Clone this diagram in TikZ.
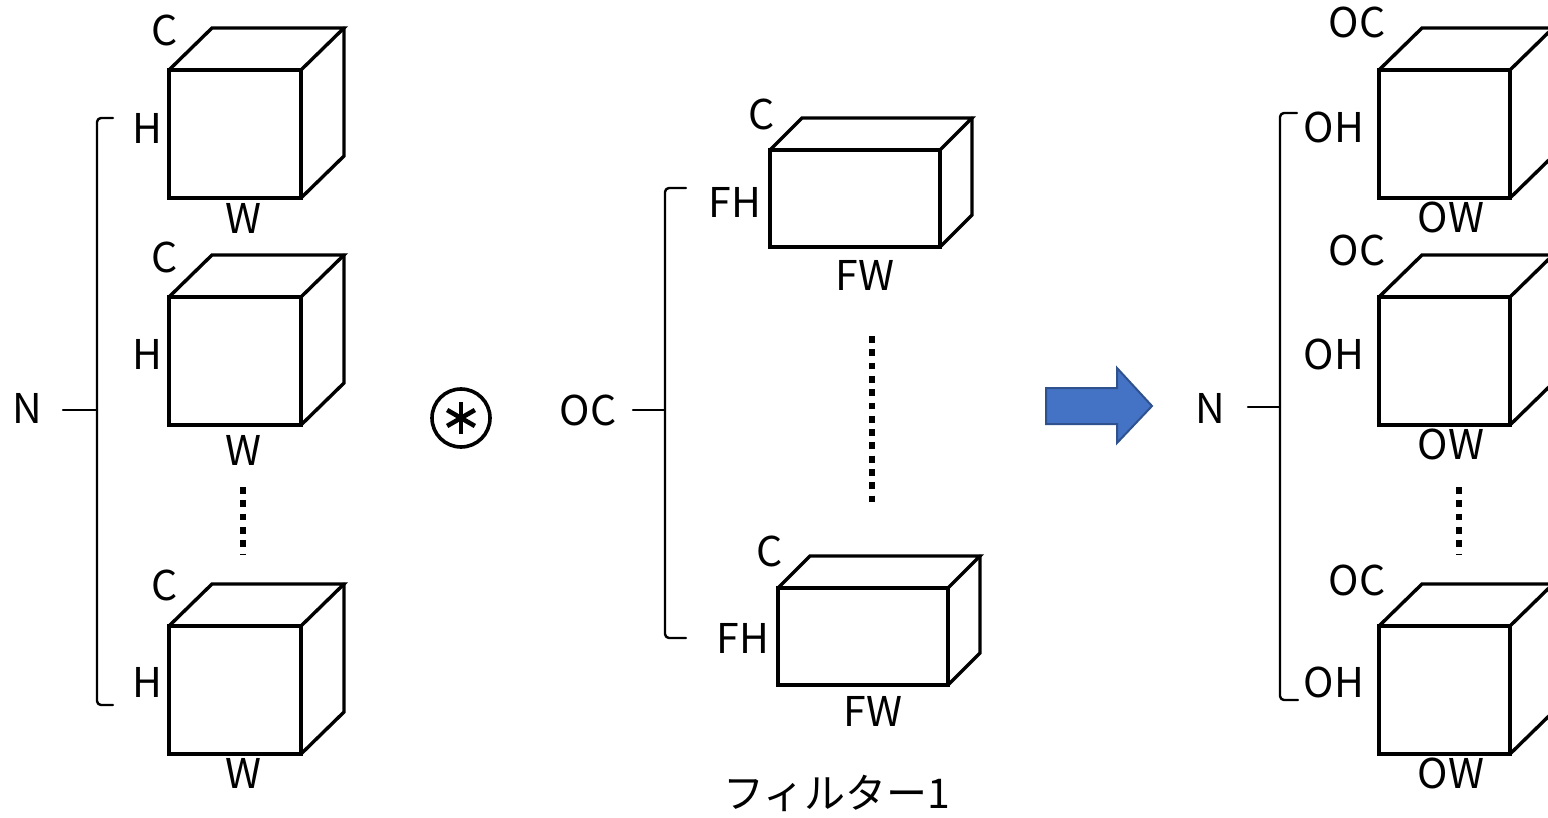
\documentclass[tikz,border=0pt]{standalone}
\usepackage{fontspec}
\setmainfont{Noto Sans CJK JP}
\usetikzlibrary{arrows}
\definecolor{arrowblue}{RGB}{68,114,196}
\definecolor{arrowedge}{RGB}{47,82,143}
\tikzset{
  box/.style={line width=1.7pt,line join=miter},
  brace/.style={line width=1.2pt,rounded corners=2pt},
  dotline/.style={line width=3.4pt,line cap=butt,dash pattern=on 3.4pt off 3.25pt},
  lbl/.style={font=\fontsize{20.5}{24}\selectfont,inner sep=0pt}
}
\begin{document}
\begin{tikzpicture}[line cap=round,line join=round,x=0.5pt,y=-0.5pt]
\useasboundingbox (0,0) rectangle (1548,818);
		% Entree : N cubes
		\foreach \i/\t/\cy/\hy/\wy in {1/70/30/128/218, 2/297/257/354/450, 3/626/585/682/773}{
			\draw[box] (169,\t) rectangle (301,\t+128);
			\draw[box] (169,\t)--(212,\t-42)--(344,\t-42)--(301,\t);
			\draw[box] (344,\t-42)--(344,\t+86)--(301,\t+128);
			\node[lbl] (c\i) at (165,\cy) {C};
			\node[lbl] (h\i) at (147,\hy) {H};
			\node[lbl] (w\i) at (243,\wy) {W};
		}
		\draw[dotline] (243,487)--(243,555);
		\node[lbl] (n1) at (27,408) {N};
		\coordinate (b1) at (63,410);
		\draw[brace] (113,118)--(97,118)--(97,705)--(113,705);
		\draw[brace] (b1)--(97,410);
		% Produit de convolution
		\coordinate (conv) at (461,418);
		\draw[line width=1.8pt] (conv) circle (29);
		\foreach \a in {90,210,330}{
			\draw[line width=2.3pt,line cap=butt] (conv)++(\a:16)--++(\a+180:32);
		}
		% Filtres : OC
		\node[lbl] (oc) at (588,410) {OC};
		\coordinate (b2) at (633,410);
		\draw[brace] (686,188)--(665,188)--(665,638)--(686,638);
		\draw[brace] (b2)--(665,410);
		\foreach \i/\x/\t/\cy/\hy/\wy in {1/770/150/114/202/275, 2/778/588/551/638/711}{
			\draw[box] (\x,\t) rectangle (\x+170,\t+97);
			\draw[box] (\x,\t)--(\x+32,\t-32)--(\x+202,\t-32)--(\x+170,\t);
			\draw[box] (\x+202,\t-32)--(\x+202,\t+65)--(\x+170,\t+97);
			\node[lbl] (fc\i) at (\x-8,\cy) {C};
			\node[lbl] (fh\i) at (\x-35,\hy) {FH};
			\node[lbl] (fw\i) at (\x+95,\wy) {FW};
		}
		\draw[dotline] (872,336)--(872,505);
		\node[lbl] (filt) at (837,793) {フィルター1};
		% Fleche
		\draw[fill=arrowblue,draw=arrowedge,line width=1pt,line join=miter]
			(1046,388)--(1117,388)--(1117,368)--(1152,406)--(1117,443)--(1117,424)--(1046,424)--cycle;
		% Sortie : N cubes
		\node[lbl] (n2) at (1210,408) {N};
		\coordinate (b3) at (1248,407);
		\draw[brace] (1297,113)--(1280,113)--(1280,700)--(1298,700);
		\draw[brace] (b3)--(1280,407);
		\foreach \i/\t/\cy/\hy/\wy in {1/70/22/127/217, 2/297/250/354/444, 3/626/580/682/773}{
			\draw[box] (1379,\t) rectangle (1510,\t+128);
			\draw[box] (1379,\t)--(1422,\t-42)--(1553,\t-42)--(1510,\t);
			\draw[box] (1553,\t-42)--(1553,\t+86)--(1510,\t+128);
			\node[lbl] (oc\i) at (1357,\cy) {OC};
			\node[lbl] (oh\i) at (1334,\hy) {OH};
			\node[lbl] (ow\i) at (1451,\wy) {OW};
		}
		\draw[dotline] (1459,487)--(1459,555);
\end{tikzpicture}
\end{document}
